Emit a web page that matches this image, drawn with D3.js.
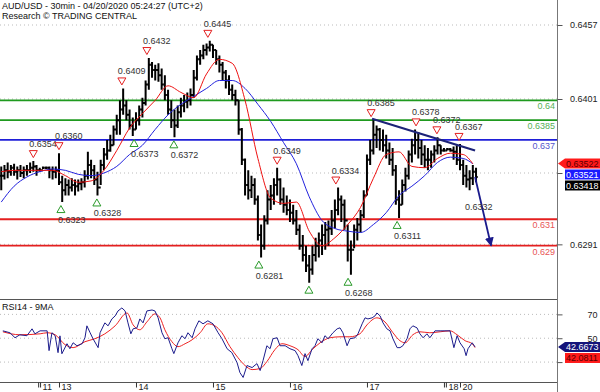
<!DOCTYPE html>
<html lang="en">
<head>
<meta charset="utf-8">
<title>AUD/USD 30min</title>
<script src="https://cdn.jsdelivr.net/npm/d3@7"></script>
<style>
body { margin: 0; background: #fff; }
text { font-family: "Liberation Sans", Arial, sans-serif; font-size: 9px; }
</style>
</head>
<body>
<script>
// hour index: 0 = 13 Apr 00:00, weekend gaps removed; first bar at -18
var firstHour = -18;
var highs = [
  .6350,.6351,.6353,.6351,.6352,.6350,.6351,.6350,.6351,.6353,
  .6354,.6351,.6349,.6350,.6350,.6350,.6350,.6350,.6360,.6343,
  .6341,.6340,.6341,.6340,.6340,.6341,.6347,.6361,.6355,.6351,
  .6346,.6355,.6364,.6370,.6374,.6381,.6389,.6400,.6409,.6400,
  .6393,.6387,.6391,.6396,.6402,.6415,.6432,.6429,.6427,.6428,
  .6424,.6419,.6408,.6400,.6393,.6396,.6402,.6404,.6406,.6409,
  .6423,.6434,.6438,.6442,.6443,.6445,.6442,.6438,.6434,.6429,
  .6423,.6419,.6412,.6408,.6400,.6379,.6356,.6347,.6343,.6341,
  .6328,.6306,.6313,.6332,.6336,.6341,.6349,.6341,.6334,.6328,
  .6325,.6321,.6317,.6306,.6298,.6290,.6283,.6290,.6296,.6300,
  .6306,.6308,.6309,.6317,.6325,.6334,.6328,.6325,.6306,.6294,
  .6306,.6311,.6317,.6332,.6359,.6370,.6385,.6381,.6379,.6378,
  .6374,.6368,.6364,.6351,.6332,.6340,.6349,.6362,.6371,.6378,
  .6376,.6370,.6366,.6364,.6362,.6366,.6372,.6366,.6364,.6364,
  .6364,.6365,.6366,.6367,.6355,.6351,.6347,.6351,.6349
];
var lows = [
  .6332,.6340,.6341,.6343,.6343,.6340,.6342,.6341,.6343,.6345,
  .6346,.6343,.6346,.6348,.6348,.6341,.6340,.6341,.6336,.6323,
  .6328,.6328,.6331,.6328,.6331,.6332,.6334,.6340,.6341,.6336,
  .6328,.6336,.6347,.6355,.6361,.6366,.6374,.6374,.6389,.6385,
  .6378,.6373,.6378,.6381,.6387,.6396,.6408,.6417,.6415,.6414,
  .6408,.6400,.6389,.6379,.6372,.6379,.6387,.6391,.6394,.6396,
  .6402,.6415,.6427,.6431,.6434,.6437,.6432,.6427,.6421,.6415,
  .6409,.6404,.6400,.6396,.6374,.6351,.6328,.6325,.6326,.6321,
  .6294,.6281,.6287,.6306,.6317,.6321,.6328,.6321,.6315,.6313,
  .6308,.6306,.6298,.6287,.6278,.6270,.6262,.6268,.6278,.6281,
  .6283,.6287,.6290,.6298,.6303,.6313,.6308,.6302,.6278,.6268,
  .6288,.6294,.6300,.6311,.6328,.6351,.6359,.6364,.6362,.6361,
  .6356,.6351,.6343,.6321,.6311,.6321,.6331,.6340,.6353,.6359,
  .6356,.6351,.6349,.6347,.6349,.6353,.6359,.6359,.6361,.6362,
  .6361,.6355,.6351,.6347,.6336,.6334,.6332,.6336,.6338
];
var closes = [
  .6343,.6347,.6346,.6349,.6346,.6347,.6345,.6347,.6347,.6349,
  .6350,.6347,.6347,.6349,.6349,.6347,.6346,.6347,.6338,.6332,
  .6336,.6334,.6336,.6335,.6337,.6338,.6343,.6351,.6347,.6340,
  .6334,.6351,.6359,.6362,.6366,.6378,.6385,.6393,.6396,.6389,
  .6381,.6378,.6385,.6393,.6398,.6412,.6427,.6423,.6423,.6419,
  .6412,.6404,.6393,.6385,.6381,.6391,.6396,.6399,.6400,.6404,
  .6417,.6431,.6434,.6438,.6440,.6442,.6438,.6431,.6427,.6421,
  .6415,.6408,.6404,.6400,.6378,.6355,.6336,.6332,.6336,.6325,
  .6298,.6290,.6309,.6325,.6328,.6336,.6340,.6325,.6321,.6317,
  .6315,.6309,.6302,.6290,.6283,.6275,.6272,.6283,.6290,.6294,
  .6298,.6302,.6303,.6309,.6317,.6325,.6321,.6309,.6287,.6287,
  .6302,.6306,.6313,.6328,.6355,.6362,.6374,.6378,.6370,.6366,
  .6362,.6355,.6347,.6325,.6321,.6336,.6343,.6359,.6366,.6370,
  .6364,.6359,.6355,.6355,.6359,.6362,.6366,.6362,.6362,.6363,
  .6362,.6361,.6355,.6351,.6343,.6340,.6341,.6346,.6342
];

// moving averages, read every 4 hours
var maAt = [-18,-14,-10,-6,-2,2,6,10,14,18,22,26,30,34,38,42,46,50,54,58,62,66,70,74,78,82,86,90,94,98,102,106,110,114,118,122,126,129];
var maFast = [.6346,.6347,.6347,.6347,.6347,.6343,.6338,.6339,.6347,.6362,.6379,.6390,.6400,.6411,.6406,.6402,.6420,.6431,.6428,.6400,
  .6356,.6326,.6322,.6323,.6301,.6290,.6296,.6306,.6319,.6341,.6359,.6361,.6350,.6349,.6356,.6360,.6359,.6352];
var maSlow = [.6323,.6335,.6342,.6346,.6348,.6347,.6344,.6343,.6345,.6350,.6359,.6366,.6378,.6389,.6397,.6403,.6409,.6415,.6415,.6409,
  .6397,.6384,.6368,.6352,.6327,.6309,.6303,.6301,.6300,.6306,.6315,.6328,.6335,.6343,.6353,.6357,.6356,.6352];

// RSI14 and its 9MA as [hour, value]
var rsi = [[-17.5,56.2],[-15.3,54.6],[-13.7,50.4],[-12.2,52.9],[-10,52.1],[-8.4,57.9],[-7.5,53.7],[-5.9,56.2],[-3.7,56.2],[-3.1,39.6],
  [-2.2,54.6],[-1.2,52.1],[-0.3,37.9],[0.3,52.0],[0.9,37.0],[2.5,45.4],[3.4,41.2],[4.4,46.2],[5.6,43.7],[7.2,45.4],
  [8.1,50.4],[8.7,60.4],[9.7,54.6],[10.6,49.6],[12.2,42.1],[12.8,54.6],[14.3,62.9],[15.3,60.4],[16.5,66.2],[17.5,68.7],
  [18.4,72.9],[19.6,75.4],[20.6,72.9],[21.5,62.9],[22.4,53.7],[23.1,57.9],[24.3,58.7],[25.2,66.2],[26.2,62.9],[27.4,72.9],
  [29,73.7],[29.9,72.9],[30.9,67.1],[32.1,54.6],[33,49.6],[34,50.4],[35.2,41.2],[35.8,37.1],[37.1,46.2],[38.3,52.1],
  [39.3,49.6],[40.2,54.6],[41.5,50.4],[42.4,57.9],[43.6,64.6],[44.9,62.1],[46.4,64.6],[48,62.1],[49.6,54.6],[50.8,49.6],
  [52.4,41.2],[53.9,37.9],[55.5,29.6],[56.4,21.2],[57.4,17.1],[58.6,27.1],[60.2,25.4],[61.7,28.7],[62.7,22.9],[63.6,31.2],
  [64.8,43.7],[65.8,41.2],[66.7,49.6],[68,50.4],[68.9,43.7],[70.5,43.7],[72,41.2],[73.6,39.6],[74.5,35.4],[75.7,27.1],
  [76.7,37.1],[77.6,31.2],[78.9,41.2],[79.8,43.7],[80.7,49.6],[82,46.2],[82.9,52.1],[83.9,49.6],[85.4,54.6],[86.7,57.9],
  [87.6,58.7],[88.5,54.6],[89.8,43.7],[90.7,49.6],[92.3,50.4],[93.2,53.7],[94.5,62.1],[95.4,67.1],[96.3,66.2],[97.6,67.1],
  [98.5,68.7],[99.1,71.2],[100.1,68.7],[101,62.9],[102.2,57.9],[103.2,56.2],[104.1,49.6],[105.4,42.1],[106.3,42.1],[107.2,43.7],
  [108.5,49.6],[109.4,57.9],[110.3,60.4],[111.6,58.7],[112.5,53.7],[113.5,50.4],[114.7,53.7],[115.6,50.4],[117.2,56.2],[118.8,56.2],
  [120.3,56.2],[121.9,56.2],[123.1,42.1],[124.1,52.1],[125,46.2],[126.3,41.2],[126.9,35.4],[127.5,41.2],[128.8,46.2],[129.7,42.7]];
var rsiMa = [[-17.5,55.4],[-12.2,52.9],[-5.9,53.7],[-3.7,54.6],[-1.2,52.9],[1.9,44.6],[4.4,42.1],[8.1,47.1],[11.2,49.6],[14.3,53.7],
  [17.5,60.4],[21.2,71.2],[23.1,61.2],[25.2,57.1],[27.4,63.7],[29.9,70.4],[31.5,67.1],[33,57.1],[35.2,47.1],[37.1,42.9],
  [39.3,45.4],[41.5,48.7],[44,54.6],[46.4,62.1],[48.6,60.4],[50.8,54.6],[53.3,42.9],[55.8,33.7],[58,27.1],[60.2,23.7],
  [62.7,24.6],[64.8,30.4],[67.3,40.4],[69.5,45.4],[72,43.7],[74.5,40.4],[76.7,34.6],[78.9,40.4],[81.4,46.2],[84.5,50.4],
  [87.6,51.2],[90.7,51.2],[93.8,53.7],[96,61.2],[99.1,67.1],[101.6,63.7],[104.1,54.6],[106.3,47.9],[107.9,46.2],[110.3,52.9],
  [112.5,55.4],[115.6,54.6],[118.8,55.4],[121.9,56.2],[124.1,52.9],[126.6,47.9],[128.8,45.4],[129.7,42.1]];

// swing markers [hour, price]
var swingHighs = [[-8,.6354],[0,.6360],[19.6,.6409],[27.4,.6432],[46.4,.6445],[68,.6349],[86.3,.6334],[97.3,.6385],[111.3,.6378],[117.8,.6372],[124.7,.6367]];
var swingLows = [[0.6,.6323],[11.8,.6328],[23.4,.6373],[35.8,.6372],[62.3,.6281],[77.9,.6262],[90.1,.6268],[105.4,.6311]];

var levels = [0.64, 0.6385, 0.637, 0.631, 0.629];
var levelLabels = ["0.64", "0.6385", "0.637", "0.631", "0.629"];
var levelColors = ["#1f9a1f", "#1f9a1f", "#1f1fd8", "#e41f1f", "#e41f1f"];
var levelTextColors = ["#55b055", "#55b055", "#5555cc", "#e85555", "#e85555"];

var trend = [[97.6, .6386], [129.7, .6362]];
var forecast = [[129.7, .6342], [134.7, .6290]];
var forecastLabel = "0.6332";

var priceTicks = [0.6457, 0.6401, 0.6345, 0.6291];
var priceTickLabels = ["0.6457", "0.6401", "", "0.6291"];
var rsiTicks = [70, 50, 30];
var rsiTickLabels = ["70", "50", ""];
var dayTickAt = [-6.5, -5.9, 0, 24, 48, 72, 96, 120, 120.6, 125];
var dayTickLabel = ["", "11", "13", "14", "15", "16", "17", "", "18", "20"];

var lastPrice = [["0.63522", "#ff1a1a", "#5a0000"], ["0.63521", "#1a1aff", "#fff"], ["0.63418", "#000", "#fff"]];
var lastPriceValue = 0.63522;
var lastRsi = [["42.6673", "#14147a", "#fff"], ["42.0811", "#ff1a1a", "#5a0000"]];
var lastRsiValue = 42.6673;

var width = 600, height = 392, plotW = 557, mainH = 299, rsiB = 382;

var svg = d3.select("body").append("svg")
  .attr("width", width).attr("height", height);

var x = d3.scaleLinear().domain([-18.39, 155.24]).range([0, plotW]);
var y = d3.scaleLinear().domain([0.624965, 0.647592]).range([mainH, 0]);
var yr = d3.scaleLinear().domain([13.3, 82.9]).range([rsiB, mainH]);

svg.append("clipPath").attr("id", "mainClip")
  .append("rect").attr("width", plotW).attr("height", mainH);
svg.append("clipPath").attr("id", "rsiClip")
  .append("rect").attr("y", mainH).attr("width", plotW).attr("height", rsiB - mainH);

// dotted grid
svg.append("g").selectAll("line").data(priceTicks).enter().append("line")
  .attr("x1", 0).attr("x2", plotW)
  .attr("y1", function(d){ return y(d); }).attr("y2", function(d){ return y(d); })
  .attr("stroke", "#bbb").attr("stroke-dasharray", "1,3");
svg.append("g").selectAll("line").data(rsiTicks).enter().append("line")
  .attr("x1", 0).attr("x2", plotW)
  .attr("y1", function(d){ return yr(d); }).attr("y2", function(d){ return yr(d); })
  .attr("stroke", "#bbb").attr("stroke-dasharray", "1,3");

var main = svg.append("g").attr("clip-path", "url(#mainClip)");

// horizontal levels
main.selectAll(".level").data(levels).enter().append("line")
  .attr("class", "level")
  .attr("x1", 0).attr("x2", plotW)
  .attr("y1", function(d){ return y(d); }).attr("y2", function(d){ return y(d); })
  .attr("stroke", function(d, i){ return levelColors[i]; })
  .attr("stroke-width", 1.8);
main.selectAll(".levelText").data(levels).enter().append("text")
  .attr("class", "levelText")
  .attr("x", plotW - 2).attr("y", function(d){ return y(d) + 9; })
  .attr("text-anchor", "end")
  .attr("fill", function(d, i){ return levelTextColors[i]; })
  .text(function(d, i){ return levelLabels[i]; });

// OHLC bars
var bars = highs.map(function(hi, i){
  return { h: firstHour + i, hi: hi, lo: lows[i], cl: closes[i], op: i ? closes[i - 1] : closes[i] };
});
main.append("g").selectAll("path").data(bars).enter().append("path")
  .attr("d", function(d){
    var bx = x(d.h);
    return "M" + bx + "," + y(d.hi) + "V" + y(d.lo) +
      "M" + (bx - 1.7) + "," + y(d.op) + "H" + bx +
      "M" + bx + "," + y(d.cl) + "H" + (bx + 1.7);
  })
  .attr("fill", "none").attr("stroke", "#000").attr("stroke-width", 2);

// moving averages
var maLine = d3.line().curve(d3.curveMonotoneX)
  .x(function(d){ return x(d[0]); }).y(function(d){ return y(d[1]); });
main.append("path").datum(maAt.map(function(h, i){ return [h, maSlow[i]]; }))
  .attr("d", maLine).attr("fill", "none").attr("stroke", "#2222dd").attr("stroke-width", 1);
main.append("path").datum(maAt.map(function(h, i){ return [h, maFast[i]]; }))
  .attr("d", maLine).attr("fill", "none").attr("stroke", "#ee1111").attr("stroke-width", 1);

// trend line and forecast arrow
svg.append("defs").append("marker").attr("id", "arrowHead")
  .attr("viewBox", "0 0 10 10").attr("refX", 9).attr("refY", 5)
  .attr("markerWidth", 5).attr("markerHeight", 6).attr("orient", "auto")
  .append("path").attr("d", "M0,0L10,5L0,10Z").attr("fill", "#1a1a8c");
main.append("line")
  .attr("x1", x(trend[0][0])).attr("y1", y(trend[0][1]))
  .attr("x2", x(trend[1][0])).attr("y2", y(trend[1][1]))
  .attr("stroke", "#1c2378").attr("stroke-width", 2.2);
main.append("line")
  .attr("x1", x(forecast[0][0])).attr("y1", y(forecast[0][1]))
  .attr("x2", x(forecast[1][0])).attr("y2", y(forecast[1][1]))
  .attr("stroke", "#1a1a8c").attr("stroke-width", 1.8)
  .attr("marker-end", "url(#arrowHead)");
main.append("text")
  .attr("x", x(forecast[0][0]) - 10).attr("y", y(0.6319) + 3)
  .attr("fill", "#333").text(forecastLabel);

// swing markers
var hm = main.append("g").selectAll("g").data(swingHighs).enter().append("g")
  .attr("transform", function(d){ return "translate(" + x(d[0]) + "," + (y(d[1]) - 7) + ")"; });
hm.append("path").attr("d", "M-4,-3.5L4,-3.5L0,3.5Z")
  .attr("fill", "#fff").attr("stroke", "#e42020").attr("stroke-width", 1);
hm.append("text").attr("x", -4).attr("y", -7).attr("fill", "#333")
  .text(function(d){ return d[1].toFixed(4); });

var lm = main.append("g").selectAll("g").data(swingLows).enter().append("g")
  .attr("transform", function(d){ return "translate(" + x(d[0]) + "," + (y(d[1]) + 7) + ")"; });
lm.append("path").attr("d", "M-4,3.5L4,3.5L0,-3.5Z")
  .attr("fill", "#fff").attr("stroke", "#2a9a2a").attr("stroke-width", 1);
// labels that would fall below the panel are not drawn (cut off in the original)
lm.filter(function(d){ return y(d[1]) + 21 < mainH; })
  .append("text").attr("x", -3).attr("y", 14).attr("fill", "#333")
  .text(function(d){ return d[1].toFixed(4); });

// RSI panel
var rsiG = svg.append("g").attr("clip-path", "url(#rsiClip)");
var rsiLine = d3.line()
  .x(function(d){ return x(d[0]); }).y(function(d){ return yr(d[1]); });
rsiG.append("path").datum(rsiMa).attr("d", rsiLine.curve(d3.curveMonotoneX))
  .attr("fill", "none").attr("stroke", "#ee2222").attr("stroke-width", 1);
rsiG.append("path").datum(rsi).attr("d", rsiLine.curve(d3.curveLinear))
  .attr("fill", "none").attr("stroke", "#1c1c8c").attr("stroke-width", 1);

// frame
svg.append("line").attr("x1", 0).attr("x2", plotW).attr("y1", mainH + 0.5).attr("y2", mainH + 0.5)
  .attr("stroke", "#555");
svg.append("line").attr("x1", 0).attr("x2", plotW).attr("y1", rsiB + 0.5).attr("y2", rsiB + 0.5)
  .attr("stroke", "#555");
svg.append("line").attr("x1", plotW + 0.5).attr("x2", plotW + 0.5).attr("y1", 0).attr("y2", height)
  .attr("stroke", "#777");

// right axes
var pAxis = svg.append("g").attr("transform", "translate(" + (plotW + 0.5) + ",0)")
  .call(d3.axisRight(y).tickValues(priceTicks).tickSize(5).tickSizeOuter(0)
    .tickFormat(function(d, i){ return priceTickLabels[i]; }));
var rAxis = svg.append("g").attr("transform", "translate(" + (plotW + 0.5) + ",0)")
  .call(d3.axisRight(yr).tickValues(rsiTicks).tickSize(5).tickSizeOuter(0)
    .tickFormat(function(d, i){ return rsiTickLabels[i]; }));
[pAxis, rAxis].forEach(function(a){
  a.select(".domain").remove();
  a.selectAll("line").attr("stroke", "#555");
  a.selectAll("text").attr("x", 40).attr("text-anchor", "end")
    .style("font-family", "Liberation Sans, Arial, sans-serif").style("font-size", "9px").attr("fill", "#222");
});

// bottom day axis
var xAxis = svg.append("g").attr("transform", "translate(0," + (rsiB + 0.5) + ")")
  .call(d3.axisBottom(x).tickValues(dayTickAt).tickSize(5).tickSizeOuter(0)
    .tickFormat(function(d, i){ return dayTickLabel[i]; }));
xAxis.select(".domain").remove();
xAxis.selectAll("line").attr("stroke", "#333");
xAxis.selectAll("text").attr("x", 2).attr("y", 1.5).attr("text-anchor", "start")
  .style("font-family", "Liberation Sans, Arial, sans-serif").style("font-size", "9px").attr("fill", "#222");

// last value boxes
function valueBoxes(items, cy0) {
  items.forEach(function(it, i){
    var cy = cy0 + i * 11;
    var g = svg.append("g");
    if (i === 0) {
      g.append("path")
        .attr("d", "M" + (plotW + 1) + "," + cy + "L" + (plotW + 8) + "," + (cy - 5) + "H600V" + (cy + 5) + "H" + (plotW + 8) + "Z")
        .attr("fill", it[1]);
    } else {
      g.append("rect").attr("x", plotW + 8).attr("y", cy - 5).attr("width", 600 - plotW - 8).attr("height", 10)
        .attr("fill", it[1]);
    }
    g.append("text").attr("x", plotW + 9).attr("y", cy + 3.5).attr("fill", it[2]).text(it[0]);
  });
}
valueBoxes(lastPrice, y(lastPriceValue));
valueBoxes(lastRsi, yr(lastRsiValue));

// titles
svg.append("text").attr("x", 2).attr("y", 9).attr("fill", "#111")
  .text("AUD/USD - 30min - 04/20/2020 05:24:27 (UTC+2)");
svg.append("text").attr("x", 2).attr("y", 19).attr("fill", "#111")
  .text("Research \u00a9 TRADING CENTRAL");
svg.append("text").attr("x", 2).attr("y", 310).attr("fill", "#111")
  .text("RSI14 - 9MA");
</script>
</body>
</html>
